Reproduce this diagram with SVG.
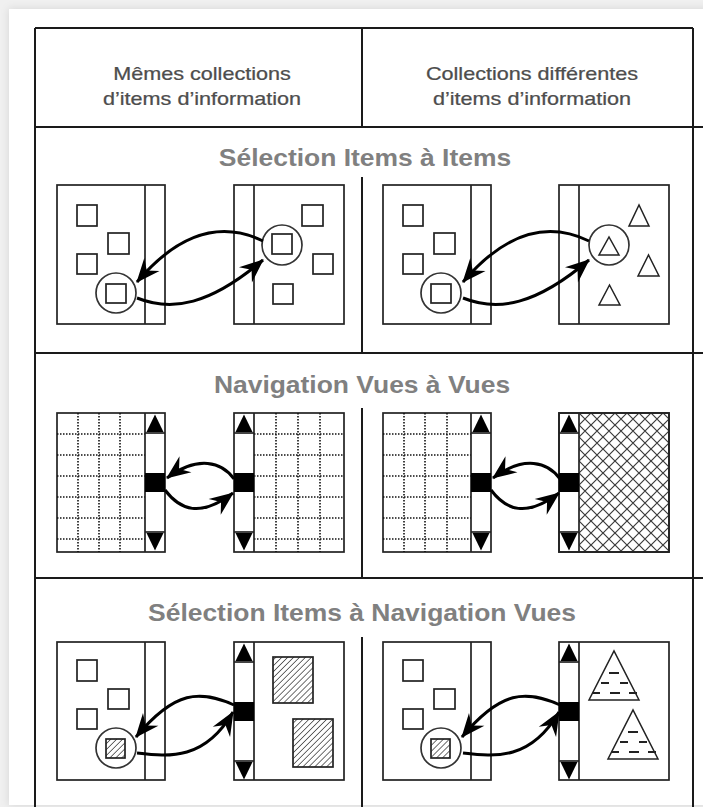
<svg xmlns="http://www.w3.org/2000/svg" width="703" height="807" viewBox="0 0 703 807">
<defs>
<style>
.frame{stroke:#1a1a1a;stroke-width:2;fill:none}
.pn{fill:#fff;stroke:#222;stroke-width:1.7}
.ln{stroke:#222;stroke-width:1.7;fill:none}
.sq{fill:#fff;stroke:#222;stroke-width:1.7}
.hsq{fill:url(#hatch);stroke:#222;stroke-width:1.7}
.circ{fill:none;stroke:#333;stroke-width:1.7}
.tri{fill:#fff;stroke:#222;stroke-width:1.5}
.dot{stroke:#111;stroke-width:1.6;stroke-dasharray:1.5 1.5;fill:none}
.blk{fill:#000}
.arr{fill:none;stroke:#000;stroke-width:3;marker-end:url(#ah)}
.dash{stroke:#222;stroke-width:1.9}
.title{font-family:"Liberation Sans",Arial,sans-serif;font-weight:bold;font-size:23px;fill:#808080;text-anchor:middle}
.hdr{font-family:"Liberation Sans",Arial,sans-serif;font-size:18px;fill:#4d4d4d;text-anchor:middle;stroke:#4d4d4d;stroke-width:0.25}
</style>
<marker id="ah" markerUnits="userSpaceOnUse" viewBox="-26 -12 28 24" refX="0" refY="0" markerWidth="28" markerHeight="24" orient="auto"><path d="M1,0 L-23,-10 L-15,0 L-23,10 Z" fill="#000"/></marker>
<pattern id="hatch" patternUnits="userSpaceOnUse" width="4.2" height="10" patternTransform="rotate(45)"><line x1="0" y1="0" x2="0" y2="10" stroke="#222" stroke-width="1.3"/></pattern>
<pattern id="xhatch" patternUnits="userSpaceOnUse" x="579" y="413" width="12" height="12"><path d="M-1,-1 L13,13 M13,-1 L-1,13" stroke="#3a3a3a" stroke-width="1.2"/></pattern>
<g id="sb">
<line class="ln" x1="0" y1="20" x2="20" y2="20"/>
<polygon class="blk" points="1.5,19 18.5,19 10,1.5"/>
<rect class="blk" x="0" y="60" width="20" height="19"/>
<line class="ln" x1="0" y1="119" x2="20" y2="119"/>
<polygon class="blk" points="1.5,120 18.5,120 10,137.5"/>
</g>
<g id="dtri">
<polygon class="tri" points="589,700 639,700 614,651"/>
<path class="dash" d="M609,673 H619 M601,683 H609 M620,683 H628 M592,693 H600 M610,693 H620 M629,693 H637"/>
</g>
<filter id="sh" x="-5%" y="-5%" width="110%" height="110%"><feDropShadow dx="0" dy="0" stdDeviation="4" flood-color="#000" flood-opacity="0.12"/></filter>
</defs>

<rect width="703" height="807" fill="#f0f0f0"/>
<rect x="9" y="9" width="700" height="796" fill="#fff" filter="url(#sh)"/>

<g id="frame" class="frame">
<path d="M35,28 H693 M35,28 V807 M693,28 V807 M35,127 H703 M35,353 H703 M35,578 H703 M362,28 V127 M362,177 V353 M362,408 V578 M362,637 V807"/>
</g>

<g id="headers">
<text class="hdr" transform="translate(202,80) scale(1.2,1)">Mêmes collections</text>
<text class="hdr" transform="translate(202,105) scale(1.2,1)">d’items d’information</text>
<text class="hdr" transform="translate(532,80) scale(1.2,1)">Collections différentes</text>
<text class="hdr" transform="translate(532,105) scale(1.2,1)">d’items d’information</text>
</g>

<g id="titles">
<text class="title" transform="translate(365,166) scale(1.15,1)">Sélection Items à Items</text>
<text class="title" transform="translate(362,393) scale(1.15,1)">Navigation Vues à Vues</text>
<text class="title" transform="translate(362,621) scale(1.15,1)">Sélection Items à Navigation Vues</text>
</g>

<!-- Row 1 -->
<g id="panel-a">
<rect class="pn" x="57" y="185" width="108" height="139"/>
<line class="ln" x1="145" y1="185" x2="145" y2="324"/>
<rect class="sq" x="77" y="205" width="20" height="21"/>
<rect class="sq" x="108" y="233" width="21" height="21"/>
<rect class="sq" x="77" y="254" width="20" height="20"/>
<circle class="circ" cx="116" cy="293" r="20"/>
<rect class="sq" x="106" y="284" width="20" height="19"/>
</g>
<g id="panel-b">
<rect class="pn" x="234" y="185" width="110" height="139"/>
<line class="ln" x1="254" y1="185" x2="254" y2="324"/>
<rect class="sq" x="302" y="205" width="21" height="21"/>
<rect class="sq" x="313" y="254" width="20" height="20"/>
<rect class="sq" x="273" y="284" width="20" height="20"/>
<circle class="circ" cx="282" cy="245" r="20"/>
<rect class="sq" x="272" y="234" width="20" height="20"/>
</g>
<g id="panel-c">
<rect class="pn" x="383" y="185" width="108" height="139"/>
<line class="ln" x1="471" y1="185" x2="471" y2="324"/>
<rect class="sq" x="403" y="205" width="20" height="21"/>
<rect class="sq" x="434" y="233" width="21" height="21"/>
<rect class="sq" x="403" y="254" width="20" height="20"/>
<circle class="circ" cx="441" cy="293" r="20"/>
<rect class="sq" x="431" y="284" width="20" height="19"/>
</g>
<g id="panel-d">
<rect class="pn" x="559" y="185" width="110" height="139"/>
<line class="ln" x1="579" y1="185" x2="579" y2="324"/>
<polygon class="tri" points="629,226 649,226 639,205"/>
<polygon class="tri" points="638,276 659,276 648.5,255"/>
<polygon class="tri" points="599,305 620,305 609.5,285"/>
<circle class="circ" cx="609" cy="245" r="20"/>
<polygon class="tri" points="599,255 619,255 609,237"/>
</g>

<!-- Row 2 -->
<g id="panel-e">
<rect class="pn" x="57" y="413" width="108" height="139"/>
<path class="dot" d="M78,413 V552 M99,413 V552 M120,413 V552 M57,434 H145 M57,455 H145 M57,476 H145 M57,497 H145 M57,518 H145 M57,539 H145"/>
<line class="ln" x1="145" y1="413" x2="145" y2="552"/>
<use href="#sb" x="145" y="413"/>
</g>
<g id="panel-f">
<rect class="pn" x="234" y="413" width="110" height="139"/>
<path class="dot" d="M276,413 V552 M298,413 V552 M320,413 V552 M254,434 H344 M254,455 H344 M254,476 H344 M254,497 H344 M254,518 H344 M254,539 H344"/>
<line class="ln" x1="254" y1="413" x2="254" y2="552"/>
<use href="#sb" x="234" y="413"/>
</g>
<g id="panel-g">
<rect class="pn" x="383" y="413" width="108" height="139"/>
<path class="dot" d="M404,413 V552 M425,413 V552 M447,413 V552 M383,434 H471 M383,455 H471 M383,476 H471 M383,497 H471 M383,518 H471 M383,539 H471"/>
<line class="ln" x1="471" y1="413" x2="471" y2="552"/>
<use href="#sb" x="471" y="413"/>
</g>
<g id="panel-h">
<rect class="pn" x="559" y="413" width="110" height="139"/>
<rect x="579" y="413" width="90" height="139" fill="url(#xhatch)"/>
<rect class="ln" x="559" y="413" width="110" height="139"/>
<line class="ln" x1="579" y1="413" x2="579" y2="552"/>
<use href="#sb" x="559" y="413"/>
</g>

<!-- Row 3 -->
<g id="panel-i">
<rect class="pn" x="57" y="642" width="108" height="138"/>
<line class="ln" x1="145" y1="642" x2="145" y2="780"/>
<rect class="sq" x="77" y="660" width="20" height="21"/>
<rect class="sq" x="108" y="689" width="21" height="20"/>
<rect class="sq" x="77" y="709" width="20" height="20"/>
<circle class="circ" cx="116" cy="748" r="20"/>
<rect class="hsq" x="106" y="739" width="19" height="19"/>
</g>
<g id="panel-j">
<rect class="pn" x="234" y="642" width="110" height="138"/>
<line class="ln" x1="254" y1="642" x2="254" y2="780"/>
<use href="#sb" x="234" y="642"/>
<rect class="hsq" x="273" y="657" width="40" height="46"/>
<rect class="hsq" x="293" y="719" width="40" height="48"/>
</g>
<g id="panel-k">
<rect class="pn" x="383" y="642" width="108" height="138"/>
<line class="ln" x1="471" y1="642" x2="471" y2="780"/>
<rect class="sq" x="403" y="660" width="20" height="21"/>
<rect class="sq" x="434" y="689" width="21" height="20"/>
<rect class="sq" x="403" y="709" width="20" height="20"/>
<circle class="circ" cx="441" cy="748" r="20"/>
<rect class="hsq" x="431" y="739" width="19" height="19"/>
</g>
<g id="panel-l">
<rect class="pn" x="559" y="642" width="110" height="138"/>
<line class="ln" x1="579" y1="642" x2="579" y2="780"/>
<use href="#sb" x="559" y="642"/>
<use href="#dtri"/>
<use href="#dtri" transform="translate(19,59)"/>
</g>

<g id="connectors">
<path class="arr" d="M263,241 C232,226 188,222 137,282"/>
<path class="arr" d="M137,298 C172,312 210,305 263,260"/>
<path class="arr" d="M589,241 C558,226 514,222 463,282"/>
<path class="arr" d="M463,298 C498,312 536,305 589,260"/>
<path class="arr" d="M234,479 C222,462 198,455 167,478"/>
<path class="arr" d="M165,490 C180,510 200,518 233,493"/>
<path class="arr" d="M560,479 C548,462 524,455 493,478"/>
<path class="arr" d="M491,490 C506,510 526,518 559,493"/>
<path class="arr" d="M234,705 C200,690 175,690 136,737"/>
<path class="arr" d="M137,753 C170,757 205,760 233,712"/>
<path class="arr" d="M560,705 C526,690 501,690 462,737"/>
<path class="arr" d="M463,753 C496,757 531,760 559,712"/>
</g>
</svg>
